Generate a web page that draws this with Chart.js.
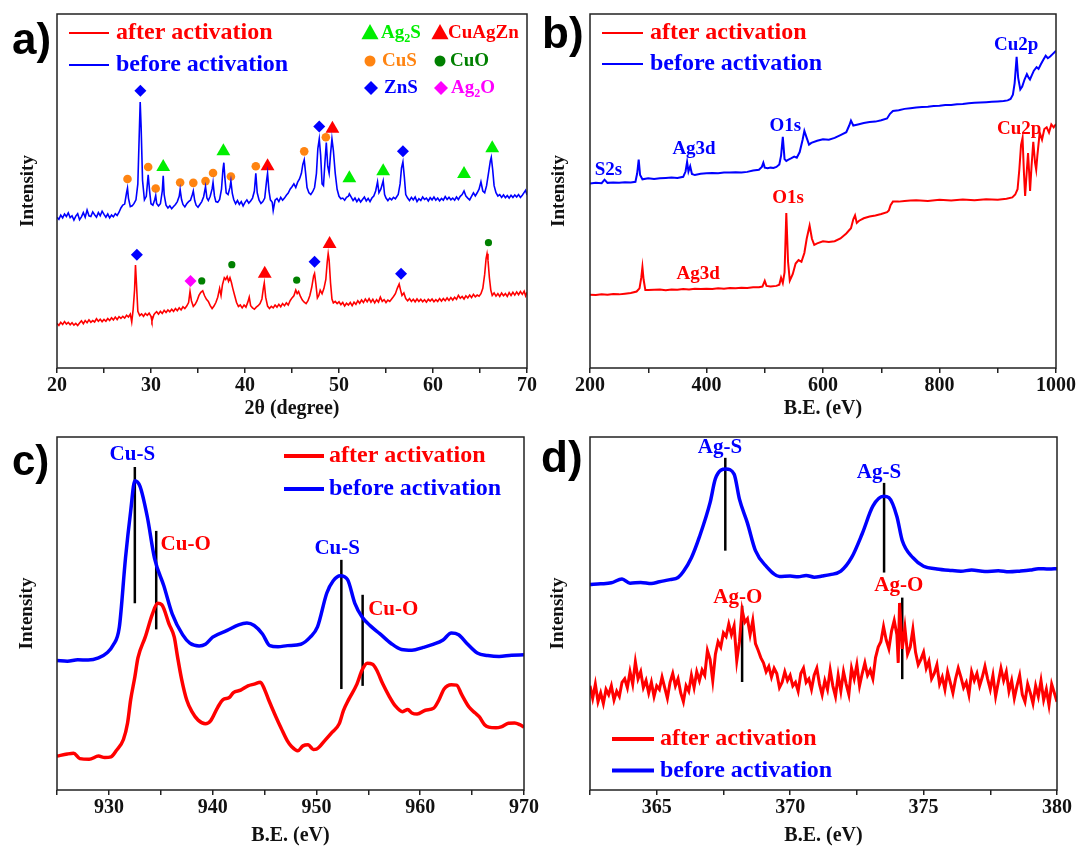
<!DOCTYPE html>
<html>
<head>
<meta charset="utf-8">
<script src="https://cdn.jsdelivr.net/npm/chart.js@4.4.1/dist/chart.umd.min.js"></script>
<style>
  body { margin: 0; background: #fff; }
  .panel { position: absolute; }
</style>
</head>
<body>
<div class="panel" style="left:0;top:0"><canvas id="chartA" width="540" height="425"></canvas></div>
<div class="panel" style="left:540px;top:0"><canvas id="chartB" width="537" height="425"></canvas></div>
<div class="panel" style="left:0;top:425px"><canvas id="chartC" width="540" height="426"></canvas></div>
<div class="panel" style="left:540px;top:425px"><canvas id="chartD" width="537" height="426"></canvas></div>
<script>
// ---- a) XRD, 2theta vs intensity (arb. units) ----
const aBefore = [
  [20.0,42.6],[20.2,42.0],[20.4,43.2],[20.6,42.4],[20.8,43.5],[21.0,42.8],[21.2,43.8],[21.4,42.5],[21.6,43.0],[21.8,41.8],
  [22.0,42.9],[22.2,43.6],[22.4,41.9],[22.6,42.7],[22.8,43.9],[23.0,42.6],[23.2,44.6],[23.4,43.0],[23.6,42.8],[23.8,44.1],
  [24.0,43.3],[24.2,42.6],[24.4,43.9],[24.6,43.0],[24.8,44.3],[25.0,43.4],[25.2,42.6],[25.4,43.5],[25.6,42.4],[25.8,43.2],
  [26.0,42.7],[26.2,43.6],[26.4,43.1],[26.6,44.0],[26.8,45.2],[27.0,46.0],[27.2,46.3],[27.4,49.5],[27.5,50.8],[27.6,48.0],
  [27.8,45.6],[28.0,45.8],[28.2,46.5],[28.4,47.5],[28.6,52.0],[28.75,66.0],[28.85,75.1],[28.95,68.0],[29.1,53.0],[29.3,47.5],
  [29.5,48.5],[29.7,54.6],[29.85,50.0],[30.0,46.4],[30.2,46.0],[30.4,47.6],[30.5,48.7],[30.6,46.5],[30.8,45.8],[31.0,46.4],
  [31.2,50.0],[31.3,54.3],[31.4,49.0],[31.6,46.0],[31.8,45.2],[32.0,45.8],[32.2,45.0],[32.4,45.6],[32.6,46.2],[32.8,47.0],
  [33.0,48.5],[33.1,50.4],[33.25,47.6],[33.4,46.2],[33.6,45.5],[33.8,46.4],[34.0,47.0],[34.2,47.4],[34.4,49.0],[34.5,50.0],
  [34.65,47.3],[34.8,46.0],[35.0,45.4],[35.2,46.2],[35.4,47.0],[35.6,48.4],[35.8,51.2],[35.95,48.0],[36.1,47.3],[36.3,48.5],
  [36.5,50.6],[36.6,52.4],[36.75,48.6],[36.9,47.0],[37.1,46.8],[37.3,47.6],[37.5,50.5],[37.65,56.0],[37.75,58.0],[37.85,54.0],
  [38.0,49.5],[38.2,49.0],[38.4,51.0],[38.5,52.8],[38.65,49.3],[38.8,47.6],[39.0,46.4],[39.2,47.3],[39.4,46.2],[39.6,47.0],
  [39.8,45.8],[40.0,46.8],[40.2,47.5],[40.4,46.6],[40.6,47.2],[40.8,48.0],[41.0,50.0],[41.15,55.0],[41.3,49.5],[41.5,47.4],
  [41.7,46.5],[41.9,47.0],[42.1,48.0],[42.3,53.0],[42.4,55.0],[42.55,50.0],[42.7,47.5],[42.9,46.8],[43.0,44.5],[43.2,47.4],
  [43.4,47.9],[43.6,47.0],[43.8,48.2],[44.0,47.4],[44.2,48.0],[44.4,48.8],[44.6,49.4],[44.8,50.5],[45.0,51.2],[45.2,52.0],
  [45.4,51.0],[45.6,52.5],[45.8,53.4],[46.0,55.0],[46.15,57.5],[46.3,58.8],[46.45,55.0],[46.6,51.0],[46.8,49.5],[47.0,49.0],
  [47.2,49.8],[47.4,51.0],[47.6,55.0],[47.75,62.0],[47.9,64.7],[48.05,60.0],[48.2,52.0],[48.35,51.5],[48.5,58.0],[48.65,63.7],
  [48.8,57.0],[48.95,55.0],[49.1,60.5],[49.25,64.7],[49.4,61.5],[49.6,55.0],[49.8,50.5],[50.0,48.5],[50.2,47.8],[50.4,48.0],
  [50.6,47.4],[50.8,48.2],[51.0,48.5],[51.1,49.2],[51.3,48.3],[51.5,47.3],[51.7,48.0],[51.9,47.0],[52.1,47.8],[52.3,46.9],
  [52.5,47.6],[52.7,48.3],[52.9,47.2],[53.1,47.9],[53.3,47.0],[53.5,48.0],[53.7,48.6],[53.9,50.0],[54.1,52.6],[54.25,49.5],
  [54.45,50.5],[54.7,52.9],[54.85,49.0],[55.0,48.0],[55.2,47.3],[55.4,48.0],[55.6,47.5],[55.8,48.2],[56.0,47.8],[56.3,49.0],
  [56.5,52.0],[56.65,56.5],[56.8,58.2],[56.95,54.0],[57.1,49.0],[57.3,48.0],[57.5,47.3],[57.7,48.2],[57.9,47.5],[58.1,48.3],
  [58.3,47.0],[58.5,47.8],[58.7,47.3],[58.9,48.3],[59.1,47.6],[59.3,48.0],[59.5,47.2],[59.7,48.1],[59.9,47.5],[60.1,48.3],
  [60.3,47.4],[60.5,48.0],[60.7,47.2],[60.9,47.9],[61.1,47.4],[61.3,48.4],[61.5,47.6],[61.7,48.2],[61.9,47.5],[62.1,48.0],
  [62.3,47.4],[62.5,48.3],[62.7,47.6],[62.9,48.5],[63.1,49.0],[63.3,50.0],[63.5,48.6],[63.7,48.0],[63.9,47.5],[64.1,48.5],
  [64.3,49.5],[64.5,48.6],[64.7,49.5],[64.9,50.5],[65.1,52.6],[65.3,50.0],[65.5,49.5],[65.7,51.5],[65.9,55.0],[66.1,58.5],
  [66.2,59.5],[66.35,56.0],[66.5,51.5],[66.7,49.5],[66.9,48.6],[67.1,49.0],[67.3,48.2],[67.5,48.9],[67.7,48.1],[67.9,48.7],
  [68.1,48.0],[68.3,48.8],[68.5,48.2],[68.7,48.9],[68.9,48.3],[69.1,49.0],[69.3,48.2],[69.5,48.8],[69.7,49.6],[69.85,50.2],
  [70.0,48.9]
];
const aAfter = [
  [20.0,12.6],[20.2,12.0],[20.4,12.9],[20.6,12.3],[20.8,13.1],[21.0,12.4],[21.2,12.9],[21.4,12.2],[21.6,12.8],[21.8,12.1],
  [22.0,12.6],[22.2,12.0],[22.4,12.7],[22.6,13.3],[22.8,12.5],[23.0,13.4],[23.2,12.8],[23.4,13.6],[23.6,12.9],[23.8,13.4],
  [24.0,13.0],[24.2,13.9],[24.4,13.2],[24.6,13.8],[24.8,13.1],[25.0,13.7],[25.2,13.2],[25.4,14.0],[25.6,13.4],[25.8,14.2],
  [26.0,13.6],[26.2,14.4],[26.4,13.7],[26.6,14.5],[26.8,14.0],[27.0,14.6],[27.2,14.1],[27.4,14.9],[27.6,14.4],[27.8,15.2],
  [27.95,13.0],[28.1,16.5],[28.25,22.0],[28.35,29.1],[28.45,24.0],[28.6,16.0],[28.8,14.8],[29.0,15.3],[29.2,14.6],[29.4,15.4],
  [29.6,14.9],[29.8,15.5],[30.0,14.6],[30.1,13.3],[30.3,15.0],[30.4,15.4],[30.6,15.9],[30.8,15.2],[31.0,16.0],[31.2,15.4],
  [31.4,16.3],[31.6,15.7],[31.8,16.4],[32.0,15.9],[32.2,16.6],[32.4,16.0],[32.6,16.8],[32.8,16.2],[33.0,17.0],[33.2,16.4],
  [33.4,17.3],[33.6,16.8],[33.8,17.5],[34.0,18.5],[34.15,21.6],[34.3,19.0],[34.5,17.4],[34.7,18.0],[34.9,19.0],[35.1,20.5],
  [35.3,21.4],[35.5,21.8],[35.7,20.4],[35.9,19.4],[36.1,18.8],[36.3,17.6],[36.5,16.8],[36.7,17.5],[36.9,18.5],[37.1,20.0],
  [37.3,22.5],[37.45,20.5],[37.6,23.5],[37.8,25.5],[37.95,25.0],[38.1,25.8],[38.25,24.5],[38.4,25.5],[38.55,24.2],[38.7,22.5],
  [38.9,20.5],[39.1,18.5],[39.3,17.4],[39.5,17.8],[39.7,17.0],[39.9,17.8],[40.1,17.2],[40.3,18.6],[40.45,20.0],[40.6,17.6],
  [40.8,17.0],[41.0,16.6],[41.2,17.2],[41.4,17.6],[41.6,18.2],[41.8,19.5],[41.95,22.5],[42.05,24.0],[42.2,20.0],[42.4,17.5],
  [42.6,16.8],[42.8,17.4],[43.0,17.0],[43.2,17.8],[43.4,17.2],[43.6,18.0],[43.8,17.3],[44.0,18.2],[44.2,17.6],[44.4,18.4],
  [44.6,17.8],[44.8,19.0],[45.0,19.8],[45.2,20.4],[45.4,22.0],[45.55,21.0],[45.7,21.6],[45.9,20.2],[46.1,19.2],[46.3,18.6],
  [46.5,18.2],[46.7,19.0],[46.9,20.5],[47.1,22.8],[47.3,26.0],[47.4,26.7],[47.55,23.5],[47.7,19.8],[47.85,20.5],[48.0,22.0],
  [48.2,21.0],[48.4,22.5],[48.6,25.0],[48.75,30.0],[48.85,32.3],[48.95,30.5],[49.1,24.0],[49.25,19.5],[49.4,18.4],[49.6,18.8],
  [49.8,18.2],[50.0,18.7],[50.2,17.9],[50.4,18.5],[50.6,17.5],[50.8,18.3],[51.0,17.8],[51.2,18.5],[51.4,17.6],[51.6,18.6],
  [51.8,18.0],[52.0,19.0],[52.2,18.3],[52.4,19.2],[52.6,18.5],[52.8,19.5],[53.0,18.7],[53.2,19.6],[53.4,18.6],[53.6,19.4],
  [53.8,18.4],[54.0,19.3],[54.2,18.6],[54.4,20.0],[54.6,18.8],[54.8,19.3],[55.0,18.5],[55.2,19.2],[55.4,18.8],[55.6,19.5],
  [55.8,20.2],[56.0,21.0],[56.2,22.5],[56.4,23.7],[56.55,22.0],[56.7,20.5],[56.9,21.2],[57.1,19.6],[57.3,19.0],[57.5,19.6],
  [57.7,18.8],[57.9,19.4],[58.1,18.7],[58.3,19.5],[58.5,18.8],[58.7,19.4],[58.9,18.7],[59.1,19.3],[59.3,18.6],[59.5,19.4],
  [59.7,18.9],[59.9,19.5],[60.1,18.7],[60.3,19.3],[60.5,18.8],[60.7,19.6],[60.9,18.9],[61.1,19.6],[61.3,19.0],[61.5,19.8],
  [61.7,19.1],[61.9,19.9],[62.1,19.2],[62.3,20.0],[62.5,19.4],[62.7,20.5],[62.9,19.7],[63.1,20.2],[63.3,19.5],[63.5,20.4],
  [63.7,19.8],[63.9,20.6],[64.1,19.9],[64.3,20.8],[64.5,20.1],[64.7,20.6],[64.9,20.3],[65.1,21.0],[65.3,22.5],[65.5,26.5],
  [65.65,31.0],[65.75,32.3],[65.85,30.5],[66.0,25.5],[66.15,22.0],[66.3,20.5],[66.5,21.2],[66.7,20.3],[66.9,21.0],[67.1,20.2],
  [67.3,21.2],[67.5,20.4],[67.7,21.0],[67.9,20.2],[68.1,21.3],[68.3,20.5],[68.5,21.4],[68.7,20.6],[68.9,21.5],[69.1,20.7],
  [69.3,21.6],[69.5,20.8],[69.7,21.7],[69.85,20.4],[70.0,21.4]
];
// phase markers [2theta, height]
const mkAg2S   = [[31.3,56.8],[37.7,61.2],[51.1,53.6],[54.7,55.6],[63.3,54.8],[66.3,62.1]];
const mkCuAgZn = [[42.4,57.0],[49.3,67.6],[42.1,26.6],[49.0,35.0]];
const mkCuS    = [[27.5,53.4],[29.7,56.8],[30.5,50.7],[33.1,52.4],[34.5,52.3],[35.8,52.8],[36.6,55.1],[38.5,54.1],[41.15,57.0],[46.3,61.2],[48.6,65.2]];
const mkCuO    = [[35.4,24.6],[38.6,29.2],[45.5,24.8],[65.9,35.4]];
const mkZnS    = [[28.87,78.3],[47.9,68.2],[56.8,61.2],[28.5,32.0],[47.4,30.0],[56.6,26.6]];
const mkAg2O   = [[34.2,24.6]];

// ---- b) XPS survey, B.E. (eV) vs intensity ----
const bBefore = [
  [200,52.1],[210,52.3],[220,52.2],[225,53.2],[230,52.3],[240,52.4],[250,52.3],[260,52.5],[270,52.4],[278,52.6],
  [281,55.0],[283.6,58.9],[286,54.5],[290,53.3],[300,53.6],[310,53.4],[320,53.6],[330,53.7],[340,53.8],[350,53.7],
  [360,54.0],[364,55.5],[366.7,58.2],[369,55.5],[372,57.0],[375,54.8],[380,54.5],[390,54.9],[400,55.0],[410,55.1],
  [420,55.0],[430,55.2],[440,55.2],[450,55.3],[460,55.2],[470,55.4],[480,55.8],[490,56.0],[495,56.8],[497.6,58.0],
  [500,56.6],[505,56.4],[510,56.6],[515,56.5],[520,56.8],[525,57.5],[528,60.0],[531,65.3],[534,59.0],[537,58.5],
  [540,58.8],[545,59.2],[550.6,59.7],[555,59.4],[560,61.0],[565,64.5],[568,67.0],[572,65.0],[576,63.1],[580,63.6],
  [590,64.2],[600,64.6],[610,64.5],[620,65.0],[630,65.8],[640,66.6],[645,68.5],[648,69.9],[652,68.5],[660,68.8],
  [670,69.2],[680,69.5],[690,69.6],[700,70.0],[710,70.5],[715,71.8],[720,72.6],[730,72.8],[740,73.2],[750,73.4],
  [760,73.6],[770,73.7],[780,73.8],[790,74.0],[800,74.1],[810,74.3],[820,74.3],[830,74.5],[840,74.6],[850,74.8],
  [860,74.9],[870,75.0],[880,75.1],[890,75.2],[900,75.3],[910,75.4],[917,75.6],[922,76.0],[926,77.2],[929,80.5],
  [932.4,87.9],[935,82.0],[938.7,78.7],[942,79.5],[946,81.5],[950,83.0],[953,82.0],[955.3,81.5],[958,82.5],[962,84.0],
  [966.6,85.0],[970,84.5],[974,85.8],[978,87.0],[982.3,88.2],[986,87.5],[990,88.0],[995,88.8],[1000,89.6]
];
const bAfter = [
  [200,20.7],[210,20.6],[220,20.8],[230,20.7],[240,20.9],[250,20.8],[260,21.0],[270,21.2],[280,21.6],[285,22.5],
  [288,25.5],[290,28.5],[292,25.0],[295,22.0],[300,22.0],[310,22.1],[320,22.2],[330,22.0],[340,22.2],[350,22.1],
  [360,22.3],[370,22.2],[380,22.4],[390,22.3],[400,22.4],[410,22.3],[420,22.5],[430,22.4],[440,22.6],[450,22.5],
  [460,22.7],[470,22.6],[480,22.8],[490,22.8],[496,23.0],[500,24.6],[503,23.2],[510,23.0],[520,23.2],[525,23.5],
  [528,25.5],[531,24.0],[534,27.0],[537,43.8],[540,30.0],[543,24.7],[548,26.5],[553,29.5],[558,30.5],[563,30.0],
  [568,32.5],[572,36.5],[577,40.2],[581,36.5],[585,34.8],[590,35.2],[600,35.8],[610,35.6],[620,35.8],[630,36.6],
  [640,38.0],[648,39.5],[652,42.0],[655,43.1],[658,41.0],[662,41.6],[670,42.3],[680,42.8],[690,43.1],[700,43.5],
  [710,44.0],[713,44.5],[716,46.0],[720,47.0],[730,47.0],[740,47.2],[750,47.3],[760,47.4],[780,47.2],[800,47.5],
  [820,47.3],[840,47.6],[860,47.4],[880,47.7],[900,47.5],[915,47.8],[925,48.2],[930,49.0],[934,50.5],[937,56.0],
  [940,63.0],[942.6,65.0],[945,55.0],[947,48.6],[950,56.0],[952,60.7],[954,55.0],[955.5,50.0],[958,57.0],[961,63.9],
  [964,58.0],[966,56.0],[968,60.0],[972,66.5],[976,64.5],[980,67.5],[984,68.0],[988,66.5],[992,68.8],[996,68.0],
  [1000,68.9]
];

// ---- c) Cu 2p ----
const cBefore = [
  [925,36.7],[926,36.5],[927,36.9],[928,36.8],[929,37.4],[929.8,38.8],[930.4,41.0],[931,46.0],[931.6,65.7],[932.1,79.0],
  [932.5,87.6],[933,86.0],[933.7,77.4],[934.4,65.6],[935.3,57.8],[936.1,49.9],[937.1,44.0],[937.8,41.6],[938.7,40.8],[939.3,41.3],
  [940,43.3],[941.4,45.2],[942.5,46.8],[943.3,47.3],[944,46.6],[944.8,44.2],[945.5,40.9],[946.3,40.6],[947.2,40.9],[948.5,41.3],
  [949.4,43.3],[950.1,46.2],[951,55.8],[951.6,59.2],[952.3,60.7],[953,59.6],[953.7,52.9],[954.4,49.0],[955.2,46.5],[956.1,44.3],
  [957.2,41.5],[958.2,39.8],[959.2,39.6],[960.3,40.4],[961.3,41.3],[962.2,42.5],[963,44.5],[963.7,44.0],[964.5,41.5],[965.5,38.8],
  [966.5,38.1],[967.6,37.8],[968.8,38.2],[970,38.3]
];
const cAfter = [
  [925,9.6],[926,10.2],[926.6,10.4],[927.2,8.9],[928.1,8.7],[929,9.6],[929.6,9.2],[930.2,9.4],[930.7,11.1],[931.4,14.3],
  [931.8,19.0],[932.1,25.6],[932.5,32.0],[932.8,37.4],[933.5,43.3],[934.2,49.9],[934.7,52.9],[935.1,52.5],[935.8,47.0],[936.3,43.3],
  [936.6,38.0],[937,31.5],[937.5,25.5],[938,22.2],[938.6,19.8],[939.3,18.8],[939.8,19.6],[940.5,23.5],[941,25.6],[941.6,26.2],
  [942,27.6],[942.7,28.3],[943.4,29.5],[944,30.0],[944.6,30.5],[945,28.5],[945.4,25.5],[946.1,20.7],[946.6,17.5],[947.2,13.9],
  [947.6,12.3],[948.2,11.1],[948.7,12.5],[949.2,12.8],[949.7,11.5],[950,11.6],[950.8,14.0],[951.5,16.3],[952.2,18.8],[952.6,22.5],
  [953.1,25.6],[953.9,30.0],[954.4,34.0],[954.9,35.9],[955.4,35.6],[955.8,34.0],[956.4,30.0],[957,26.6],[957.6,23.8],[958.3,22.2],
  [958.8,22.8],[959.2,21.8],[959.7,21.5],[960.5,22.6],[961.3,23.2],[961.8,25.5],[962.3,28.6],[963,29.8],[963.5,29.7],[964,27.0],
  [964.7,23.5],[965.3,21.8],[965.7,20.7],[966.2,18.5],[966.6,17.8],[967.3,17.6],[967.8,17.9],[968.5,18.9],[969.1,19.0],[969.6,18.5],
  [970,17.8]
];
// reference lines [eV, from, to]
const cLines = [[932.5,52.9,91.5],[934.56,45.5,73.4],[952.4,28.6,65.2],[954.45,29.5,55.3]];

// ---- d) Ag 3d ----
const dBefore = [
  [362.5,58.2],[362.9,58.4],[363.3,58.7],[363.7,59.8],[364.0,58.6],[364.4,58.8],[364.8,58.5],[365.1,59.0],[365.5,59.6],[365.8,60.2],
  [366.0,61.9],[366.3,65.8],[366.6,71.7],[367.0,81.4],[367.2,88.2],[367.6,90.9],[367.9,89.5],[368.1,82.4],[368.4,75.6],[368.7,67.8],
  [369.1,63.4],[369.6,60.5],[370.0,60.6],[370.3,60.4],[370.6,60.8],[370.9,60.3],[371.2,60.6],[371.5,61.0],[371.9,62.0],[372.3,65.8],
  [372.7,72.6],[373.1,80.4],[373.5,83.2],[373.7,82.8],[374.0,77.5],[374.2,70.7],[374.6,65.8],[375.0,63.4],[375.5,62.6],[376.0,62.2],
  [376.4,62.0],[376.8,62.3],[377.3,61.9],[377.8,62.1],[378.2,61.8],[378.6,62.0],[379.0,62.3],[379.3,62.7],[379.7,62.6],[380.0,62.7]
];
const dAfter = [
  [362.5,29.5],[362.6,26.0],[362.7,30.0],[362.8,25.0],[362.9,27.5],[363.0,24.5],[363.1,28.5],[363.2,27.0],[363.3,29.5],[363.4,25.5],
  [363.5,28.0],[363.6,26.5],[363.7,30.5],[363.8,31.5],[363.9,29.0],[364.0,33.5],[364.1,30.0],[364.2,36.3],[364.3,31.5],[364.4,33.5],
  [364.5,29.0],[364.6,31.0],[364.7,27.5],[364.8,30.5],[364.9,26.5],[365.0,29.5],[365.1,28.5],[365.2,32.0],[365.3,29.0],[365.4,26.0],
  [365.5,30.5],[365.6,33.0],[365.7,29.5],[365.8,31.5],[365.9,27.5],[366.0,25.0],[366.1,29.5],[366.2,28.0],[366.3,32.5],[366.4,29.0],
  [366.5,33.5],[366.6,31.0],[366.7,34.0],[366.8,32.5],[366.9,39.5],[367.0,37.0],[367.1,31.0],[367.2,38.5],[367.3,42.0],[367.4,40.5],
  [367.5,44.5],[367.6,43.5],[367.7,47.0],[367.8,44.0],[367.9,46.5],[368.0,36.6],[368.1,42.0],[368.2,51.0],[368.3,47.5],[368.4,48.5],
  [368.5,44.0],[368.6,48.0],[368.7,41.5],[368.8,39.6],[368.9,37.5],[369.0,36.0],[369.1,33.5],[369.2,35.0],[369.3,32.0],[369.4,34.5],
  [369.5,33.0],[369.6,29.0],[369.7,30.5],[369.8,33.5],[369.9,31.0],[370.0,32.5],[370.1,29.5],[370.2,30.5],[370.3,28.0],[370.4,33.0],
  [370.5,34.5],[370.6,30.5],[370.7,31.5],[370.8,28.5],[370.9,32.5],[371.0,34.5],[371.1,30.0],[371.2,27.0],[371.3,31.0],[371.4,28.5],
  [371.5,34.0],[371.6,29.5],[371.7,26.5],[371.8,32.5],[371.9,28.0],[372.0,33.5],[372.1,30.0],[372.2,27.0],[372.3,34.5],[372.4,31.5],
  [372.5,35.5],[372.6,29.5],[372.7,33.0],[372.8,36.0],[372.9,32.5],[373.0,34.0],[373.1,31.5],[373.2,37.5],[373.3,40.5],[373.4,42.0],
  [373.5,46.3],[373.6,42.5],[373.7,40.0],[373.8,45.0],[373.9,48.0],[374.0,44.0],[374.05,36.0],[374.1,53.0],[374.2,40.0],[374.3,46.0],
  [374.4,38.5],[374.5,40.5],[374.6,45.5],[374.7,39.0],[374.8,35.5],[374.9,37.0],[375.0,39.0],[375.1,34.5],[375.2,36.5],[375.3,31.5],
  [375.4,33.0],[375.5,35.5],[375.6,30.0],[375.7,32.0],[375.8,28.5],[375.9,33.5],[376.0,30.5],[376.1,27.5],[376.2,31.5],[376.3,34.5],
  [376.4,32.0],[376.5,29.0],[376.6,30.5],[376.7,27.0],[376.8,33.5],[376.9,31.0],[377.0,33.0],[377.1,29.5],[377.2,32.0],[377.3,35.0],
  [377.4,31.5],[377.5,28.5],[377.6,32.5],[377.7,26.5],[377.8,30.5],[377.9,34.5],[378.0,31.0],[378.1,33.5],[378.2,28.0],[378.3,31.0],
  [378.4,26.0],[378.5,29.5],[378.6,32.5],[378.7,27.0],[378.8,25.0],[378.9,30.0],[379.0,27.5],[379.1,24.5],[379.2,29.5],[379.3,26.5],
  [379.4,31.0],[379.5,25.5],[379.6,28.5],[379.7,24.0],[379.8,30.0],[379.9,27.5],[380.0,25.0]
];
const dLines = [[367.57,67.8,94.1],[373.52,61.6,87.0],[368.2,30.6,52.2],[374.2,31.4,54.5]];

// ---------------------------------------------------------------
const SERIF = '"Liberation Serif", "Times New Roman", serif';
const RED = '#ff0000', BLUE = '#0000ff';
const GREEN = '#00ee00', ORANGE = '#ff8411', DKGREEN = '#008000', MAGENTA = '#ff00ff';

const pts = arr => arr.map(p => ({ x: p[0], y: p[1] }));

function curve(arr, color, width, smooth) {
  return {
    data: pts(arr), borderColor: color, borderWidth: width, pointRadius: 0,
    tension: 0, cubicInterpolationMode: smooth ? 'monotone' : 'default'
  };
}
function markers(arr, color, style, r) {
  return {
    data: pts(arr), showLine: false, pointStyle: style, pointRadius: r,
    backgroundColor: color, borderColor: color, borderWidth: 0
  };
}
function refLines(arr) {
  return arr.map(l => ({
    data: [{ x: l[0], y: l[1] }, { x: l[0], y: l[2] }],
    borderColor: '#000', borderWidth: 2.5, pointRadius: 0
  }));
}

function drawMark(ctx, shape, x, y, r, color) {
  ctx.fillStyle = color;
  ctx.beginPath();
  if (shape === 'triangle') {
    ctx.moveTo(x, y - r); ctx.lineTo(x + r * 0.95, y + r * 0.7); ctx.lineTo(x - r * 0.95, y + r * 0.7);
  } else if (shape === 'circle') {
    ctx.arc(x, y, r, 0, Math.PI * 2);
  } else {
    ctx.moveTo(x, y - r); ctx.lineTo(x + r, y); ctx.lineTo(x, y + r); ctx.lineTo(x - r, y);
  }
  ctx.closePath();
  ctx.fill();
}

// text with subscripts: plain strings, or [sub] arrays
function drawRich(ctx, parts, x, y, size) {
  parts.forEach(p => {
    const sub = Array.isArray(p);
    const t = sub ? p[0] : p;
    ctx.font = `bold ${sub ? Math.round(size * 0.65) : size}px ${SERIF}`;
    ctx.fillText(t, x, sub ? y + size * 0.3 : y);
    x += ctx.measureText(t).width;
  });
}

const panelText = {
  id: 'panelText',
  afterDatasetsDraw(chart, args, o) {
    const { ctx, chartArea: ca, scales } = chart;
    ctx.save();
    ctx.strokeStyle = '#222';
    ctx.lineWidth = 1.5;
    ctx.strokeRect(ca.left, ca.top, ca.right - ca.left, ca.bottom - ca.top);
    ctx.textBaseline = 'middle';

    ctx.fillStyle = '#000';
    ctx.textAlign = 'left';
    ctx.font = `bold ${o.letter[3]}px "Liberation Sans", Arial, sans-serif`;
    ctx.fillText(o.letter[0], o.letter[1], o.letter[2]);

    ctx.textAlign = 'center';
    ctx.font = `bold ${o.peakSize}px ${SERIF}`;
    (o.peaks || []).forEach(p => {
      ctx.fillStyle = p[3];
      ctx.fillText(p[0], scales.x.getPixelForValue(p[1]), scales.y.getPixelForValue(p[2]));
    });

    const L = o.legend;
    ctx.textAlign = 'left';
    ctx.font = `bold ${L.size}px ${SERIF}`;
    L.items.forEach((it, i) => {
      const y = L.y + i * L.dy;
      ctx.strokeStyle = it[1];
      ctx.lineWidth = L.lw;
      ctx.beginPath(); ctx.moveTo(L.x0, y); ctx.lineTo(L.x1, y); ctx.stroke();
      ctx.fillStyle = it[1];
      ctx.fillText(it[0], L.tx, y);
    });

    (o.keys || []).forEach(k => {
      drawMark(ctx, k.shape, k.x, k.y, k.r, k.color);
      ctx.fillStyle = k.color;
      drawRich(ctx, k.text, k.tx, k.y, 19);
    });
    ctx.restore();
  }
};

function makePanel(id, c) {
  return new Chart(document.getElementById(id), {
    type: 'line',
    data: { datasets: c.datasets },
    options: {
      responsive: false,
      animation: false,
      events: [],
      layout: { padding: c.pad },
      plugins: { legend: { display: false }, tooltip: { enabled: false }, panelText: c.text },
      scales: {
        x: {
          type: 'linear', min: c.xMin, max: c.xMax,
          afterFit: s => { s.height = c.xH; },
          border: { display: false },
          grid: { drawOnChartArea: false, drawTicks: true, tickLength: 5, color: '#222', lineWidth: 1.5 },
          ticks: {
            stepSize: c.step, autoSkip: false, maxRotation: 0, padding: 1, color: '#111',
            font: { family: SERIF, size: 20, weight: 'bold' },
            callback: v => (Math.abs(v % c.every) < 1e-6 ? v : '')
          },
          title: {
            display: true, text: c.xTitle, color: '#111',
            font: { family: SERIF, size: 20, weight: 'bold' },
            padding: { top: 0, bottom: c.xTitlePad }
          }
        },
        y: {
          min: 0, max: 100,
          afterFit: s => { s.width = c.yW; },
          border: { display: false },
          grid: { display: false },
          ticks: { display: false },
          title: {
            display: true, text: 'Intensity', color: '#111',
            font: { family: SERIF, size: 19, weight: 'bold' },
            padding: { top: c.yTitlePad, bottom: 0 }
          }
        }
      }
    },
    plugins: [panelText]
  });
}

makePanel('chartA', {
  pad: { left: 0, top: 14, right: 13, bottom: 0 }, yW: 57, xH: 57,
  xMin: 20, xMax: 70, step: 5, every: 10, xTitle: '2\u03b8 (degree)', xTitlePad: 4, yTitlePad: 17,
  datasets: [
    curve(aAfter, RED, 1.6),
    curve(aBefore, BLUE, 1.6),
    markers(mkCuS, ORANGE, 'circle', 4.3),
    markers(mkCuO, DKGREEN, 'circle', 3.6),
    markers(mkAg2S, GREEN, 'triangle', 8),
    markers(mkCuAgZn, RED, 'triangle', 8),
    markers(mkZnS, BLUE, 'rectRot', 6),
    markers(mkAg2O, MAGENTA, 'rectRot', 6)
  ],
  text: {
    letter: ['a)', 12, 42, 44], peakSize: 19,
    legend: { x0: 69, x1: 109, tx: 116, y: 33, dy: 32, size: 24, lw: 2,
      items: [['after activation', RED], ['before activation', BLUE]] },
    keys: [
      { shape: 'triangle', color: GREEN, x: 370, y: 33, r: 9, tx: 381, text: ['Ag', ['2'], 'S'] },
      { shape: 'triangle', color: RED, x: 440, y: 33, r: 9, tx: 448, text: ['CuAgZn'] },
      { shape: 'circle', color: ORANGE, x: 370, y: 61, r: 5.5, tx: 382, text: ['CuS'] },
      { shape: 'circle', color: DKGREEN, x: 440, y: 61, r: 5.5, tx: 450, text: ['CuO'] },
      { shape: 'diamond', color: BLUE, x: 371, y: 88, r: 7, tx: 384, text: ['ZnS'] },
      { shape: 'diamond', color: MAGENTA, x: 441, y: 88, r: 7, tx: 451, text: ['Ag', ['2'], 'O'] }
    ]
  }
});

makePanel('chartB', {
  pad: { left: 0, top: 14, right: 20, bottom: 0 }, yW: 50, xH: 57,
  xMin: 200, xMax: 1000, step: 100, every: 200, xTitle: 'B.E. (eV)', xTitlePad: 4, yTitlePad: 8,
  datasets: [curve(bAfter, RED, 2), curve(bBefore, BLUE, 2)],
  text: {
    letter: ['b)', 2, 36, 44], peakSize: 19,
    peaks: [
      ['S2s', 231.7, 55.9, BLUE], ['Ag3d', 378.6, 61.7, BLUE], ['O1s', 535.3, 68.2, BLUE], ['Cu2p', 931.7, 91.3, BLUE],
      ['Cu2p', 936.8, 67.5, RED], ['O1s', 540, 48.0, RED], ['Ag3d', 385.6, 26.6, RED]
    ],
    legend: { x0: 62, x1: 103, tx: 110, y: 33, dy: 31, size: 24, lw: 2,
      items: [['after activation', RED], ['before activation', BLUE]] }
  }
});

makePanel('chartC', {
  pad: { left: 0, top: 12, right: 15, bottom: 0 }, yW: 57, xH: 61,
  xMin: 925, xMax: 970, step: 5, every: 10, xTitle: 'B.E. (eV)', xTitlePad: 3, yTitlePad: 16,
  datasets: [curve(cBefore, BLUE, 3.5, true), curve(cAfter, RED, 3.5, true), ...refLines(cLines)],
  text: {
    letter: ['c)', 12, 38, 42], peakSize: 21,
    peaks: [
      ['Cu-S', 932.26, 95.0, BLUE], ['Cu-O', 937.4, 69.5, RED], ['Cu-S', 952.0, 68.4, BLUE], ['Cu-O', 957.4, 51.1, RED]
    ],
    legend: { x0: 284, x1: 324, tx: 329, y: 31, dy: 33, size: 24, lw: 4,
      items: [['after activation', RED], ['before activation', BLUE]] }
  }
});

makePanel('chartD', {
  pad: { left: 0, top: 12, right: 20, bottom: 0 }, yW: 50, xH: 61,
  xMin: 362.5, xMax: 380, step: 2.5, every: 5, xTitle: 'B.E. (eV)', xTitlePad: 3, yTitlePad: 7,
  datasets: [curve(dBefore, BLUE, 3.5, true), curve(dAfter, RED, 3), ...refLines(dLines)],
  text: {
    letter: ['d)', 1, 35, 44], peakSize: 21,
    peaks: [
      ['Ag-S', 367.37, 97.0, BLUE], ['Ag-S', 373.33, 90.0, BLUE], ['Ag-O', 368.04, 54.6, RED], ['Ag-O', 374.07, 57.8, RED]
    ],
    legend: { x0: 72, x1: 114, tx: 120, y: 314, dy: 31.5, size: 24, lw: 4,
      items: [['after activation', RED], ['before activation', BLUE]] }
  }
});
</script>
</body>
</html>
